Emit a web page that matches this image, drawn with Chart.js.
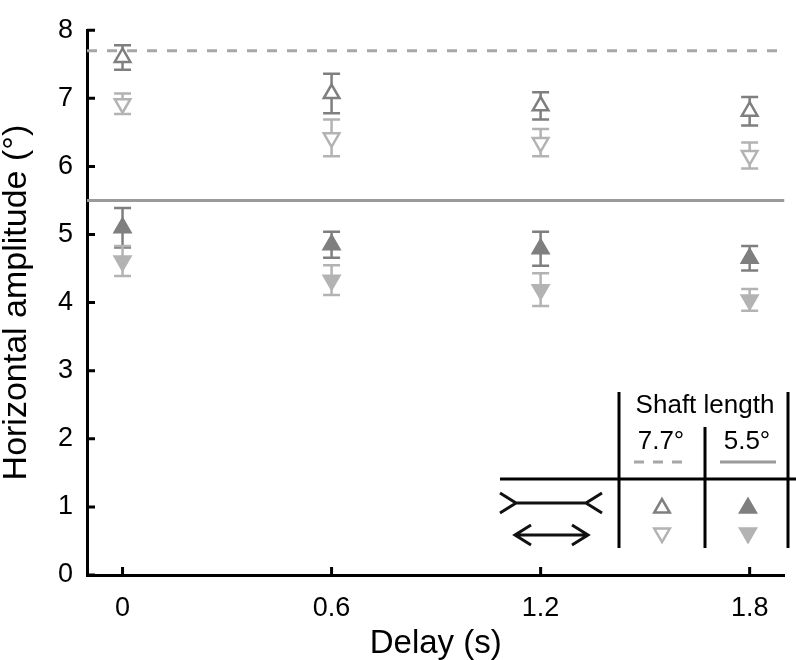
<!DOCTYPE html>
<html>
<head>
<meta charset="utf-8">
<script src="https://cdn.jsdelivr.net/npm/chart.js@4"></script>
<style>
  body { margin: 0; background: #fff; }
  canvas { display: block; }
</style>
</head>
<body>
<canvas id="amp-chart" width="796" height="660"></canvas>
<script>
// Horizontal amplitude vs delay

var delays = [0, 0.6, 1.2, 1.8];
var delayTicks = [0, 0.6, 1.2, 1.8];
var ampTicks = [0, 1, 2, 3, 4, 5, 6, 7, 8];

// 7.7 deg shaft
var outLong = [7.60, 7.07, 6.89, 6.81];
var outLongErr = [0.18, 0.29, 0.20, 0.21];
var inLong = [6.92, 6.42, 6.35, 6.16];
var inLongErr = [0.15, 0.27, 0.20, 0.19];
// 5.5 deg shaft
var outShort = [5.10, 4.85, 4.79, 4.65];
var outShortErr = [0.29, 0.19, 0.25, 0.18];
var inShort = [4.61, 4.33, 4.19, 4.04];
var inShortErr = [0.22, 0.22, 0.24, 0.16];

var shaftLengths = [7.7, 5.5];

var DARK = '#7f7f7f';
var LIGHT = '#b3b3b3';
var FONT = "'Liberation Sans', Arial, sans-serif";
var XMIN = -0.102, XMAX = 1.9;

function pts(vals) {
    var out = [];
    vals.forEach(function (v, i) { out.push({ x: delays[i], y: v }); });
    return out;
}

function series(label, vals, color, filled, down) {
    return {
        label: label,
        data: pts(vals),
        showLine: false,
        pointStyle: 'triangle',
        pointRotation: down ? 180 : 0,
        pointRadius: 9,
        pointHoverRadius: 9,
        pointBorderWidth: 2.5,
        pointBorderColor: color,
        pointBackgroundColor: filled ? color : '#fff',
        borderColor: color,
        backgroundColor: filled ? color : '#fff'
    };
}

var errSets = [
    { vals: outLong, err: outLongErr, color: DARK },
    { vals: inLong, err: inLongErr, color: LIGHT },
    { vals: outShort, err: outShortErr, color: DARK },
    { vals: inShort, err: inShortErr, color: LIGHT }
];

var errorBars = {
    id: 'errorBars',
    beforeDatasetsDraw: function (chart) {
        var c = chart.ctx, xs = chart.scales.x, ys = chart.scales.y;
        c.save();
        c.lineWidth = 2.5;
        errSets.forEach(function (s) {
            c.strokeStyle = s.color;
            s.vals.forEach(function (v, i) {
                var px = xs.getPixelForValue(delays[i]);
                var top = ys.getPixelForValue(v + s.err[i]);
                var bot = ys.getPixelForValue(v - s.err[i]);
                c.beginPath();
                c.moveTo(px, top); c.lineTo(px, bot);
                c.moveTo(px - 8.5, top); c.lineTo(px + 8.5, top);
                c.moveTo(px - 8.5, bot); c.lineTo(px + 8.5, bot);
                c.stroke();
            });
        });
        c.restore();
    }
};

// inward tick marks
var innerTicks = {
    id: 'innerTicks',
    afterDraw: function (chart) {
        var c = chart.ctx, xs = chart.scales.x, ys = chart.scales.y, a = chart.chartArea;
        c.save();
        c.strokeStyle = '#000';
        c.lineWidth = 3;
        c.beginPath();
        delayTicks.forEach(function (t) {
            var px = xs.getPixelForValue(t);
            c.moveTo(px, a.bottom); c.lineTo(px, a.bottom - 8);
        });
        ampTicks.forEach(function (t) {
            var py = ys.getPixelForValue(t);
            c.moveTo(a.left, py); c.lineTo(a.left + 8, py);
        });
        c.stroke();
        c.restore();
    }
};

function tri(c, x, y, r, down, color, filled) {
    var s = down ? -1 : 1;
    c.beginPath();
    c.moveTo(x, y - s * r);
    c.lineTo(x + r * 0.866, y + s * r * 0.5);
    c.lineTo(x - r * 0.866, y + s * r * 0.5);
    c.closePath();
    c.lineWidth = 2.5;
    c.strokeStyle = color;
    c.fillStyle = filled ? color : '#fff';
    c.fill();
    c.stroke();
}

// legend table in lower right
var legendTable = {
    id: 'legendTable',
    afterDraw: function (chart) {
        var c = chart.ctx;
        c.save();
        c.strokeStyle = '#000';
        c.lineWidth = 3;
        c.beginPath();
        c.moveTo(500, 479); c.lineTo(796, 479);
        c.moveTo(619, 392); c.lineTo(619, 548);
        c.moveTo(705, 427); c.lineTo(705, 548);
        c.moveTo(788, 392); c.lineTo(788, 548);
        c.stroke();

        c.fillStyle = '#000';
        c.textAlign = 'center';
        c.textBaseline = 'middle';
        c.font = '26px ' + FONT;
        c.fillText('Shaft length', 705, 406);
        c.fillText(shaftLengths[0].toFixed(1) + '\u00b0', 661, 442);
        c.fillText(shaftLengths[1].toFixed(1) + '\u00b0', 747, 442);

        c.lineWidth = 3;
        c.strokeStyle = '#a6a6a6';
        c.setLineDash([10, 9]);
        c.beginPath(); c.moveTo(634, 462); c.lineTo(684, 462); c.stroke();
        c.setLineDash([]);
        c.strokeStyle = '#9a9a9a';
        c.beginPath(); c.moveTo(720, 462); c.lineTo(776, 462); c.stroke();

        tri(c, 662, 508, 9, false, DARK, false);
        tri(c, 662, 533, 9, true, LIGHT, false);
        tri(c, 748, 508, 9, false, DARK, true);
        tri(c, 748, 533, 9, true, LIGHT, true);

        // Mueller-Lyer figures
        c.strokeStyle = '#111';
        c.lineWidth = 3;
        c.beginPath();
        c.moveTo(500, 493); c.lineTo(516, 503); c.lineTo(500, 513);
        c.moveTo(516, 503); c.lineTo(586, 503);
        c.moveTo(602, 493); c.lineTo(586, 503); c.lineTo(602, 513);
        c.moveTo(531, 525); c.lineTo(515, 535); c.lineTo(531, 545);
        c.moveTo(515, 535); c.lineTo(588, 535);
        c.moveTo(572, 525); c.lineTo(588, 535); c.lineTo(572, 545);
        c.stroke();
        c.restore();
    }
};

function refLine(y, color, dash) {
    return {
        label: 'ref ' + y,
        data: [{ x: XMIN, y: y }, { x: XMAX, y: y }],
        showLine: true,
        borderColor: color,
        borderWidth: 3,
        borderDash: dash,
        pointRadius: 0,
        fill: false
    };
}

var ctx = document.getElementById('amp-chart').getContext('2d');
var myChart = new Chart(ctx, {
    type: 'line',
    data: {
        datasets: [
            refLine(shaftLengths[0], '#a6a6a6', [10, 10]),
            refLine(shaftLengths[1], '#9a9a9a', []),
            series('wings-out 7.7', outLong, DARK, false, false),
            series('wings-in 7.7', inLong, LIGHT, false, true),
            series('wings-out 5.5', outShort, DARK, true, false),
            series('wings-in 5.5', inShort, LIGHT, true, true)
        ]
    },
    options: {
        responsive: false,
        animation: false,
        events: [],
        layout: { padding: { top: 17, right: 3, left: 0, bottom: 0 } },
        plugins: { legend: { display: false }, tooltip: { enabled: false } },
        scales: {
            x: {
                type: 'linear',
                min: XMIN,
                max: XMAX,
                afterBuildTicks: function (s) { s.ticks = delayTicks.map(function (v) { return { value: v }; }); },
                afterFit: function (s) { s.height = 85; },
                grid: { drawOnChartArea: false, drawTicks: false },
                border: { display: true, color: '#000', width: 3 },
                ticks: {
                    color: '#000',
                    padding: 17,
                    font: { family: FONT, size: 27 },
                    callback: function (v) { return String(v); }
                },
                title: {
                    display: true,
                    text: 'Delay (s)',
                    color: '#000',
                    font: { family: FONT, size: 33, lineHeight: 1 },
                    padding: { top: 0, bottom: 0 }
                }
            },
            y: {
                min: 0,
                max: 8,
                afterBuildTicks: function (s) { s.ticks = ampTicks.map(function (v) { return { value: v }; }); },
                afterFit: function (s) { s.width = 87; },
                grid: { drawOnChartArea: false, drawTicks: false },
                border: { display: true, color: '#000', width: 3 },
                ticks: {
                    color: '#000',
                    padding: 14,
                    font: { family: FONT, size: 27 }
                },
                title: {
                    display: true,
                    text: 'Horizontal amplitude (\u00b0)',
                    color: '#000',
                    font: { family: FONT, size: 34, lineHeight: 1 },
                    padding: { top: 0, bottom: 0 }
                }
            }
        }
    },
    plugins: [errorBars, innerTicks, legendTable]
});
</script>
</body>
</html>
